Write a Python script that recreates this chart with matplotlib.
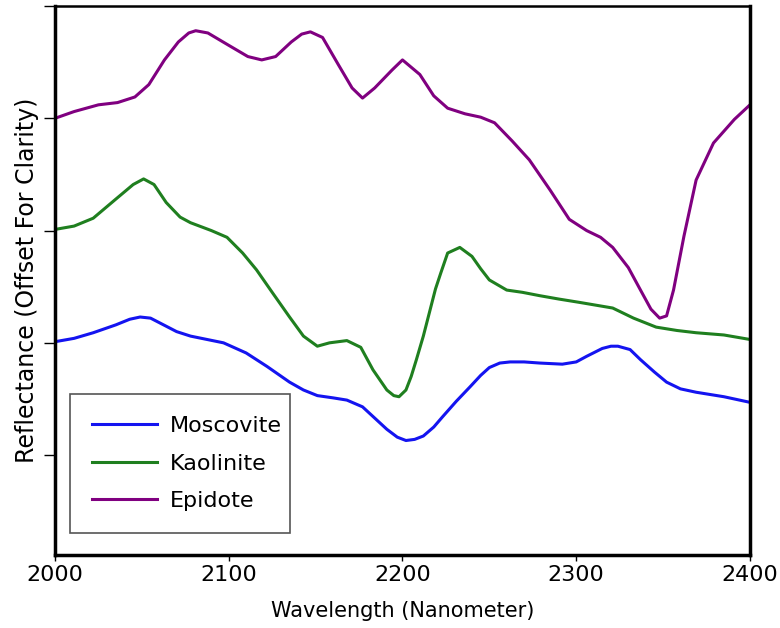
import matplotlib
matplotlib.use('Agg')
import matplotlib.pyplot as plt

# wavelength (nm) / reflectance (offset units)
moscovite_x = [2000, 2011, 2022, 2035, 2043, 2049, 2055, 2060, 2070, 2078, 2097, 2110, 2122, 2135,
               2143, 2151, 2160, 2168, 2177, 2184, 2191, 2197, 2202, 2207, 2212, 2218, 2223,
               2231, 2239, 2245, 2250, 2256, 2262, 2270, 2279, 2292, 2300, 2306, 2315, 2320,
               2324, 2331, 2337, 2345, 2352, 2360, 2369, 2385, 2400]
moscovite_y = [2.01, 2.04, 2.09, 2.16, 2.21, 2.23, 2.22, 2.18, 2.10, 2.06, 2.00, 1.91, 1.79, 1.65,
               1.58, 1.53, 1.51, 1.49, 1.43, 1.33, 1.23, 1.16, 1.13, 1.14, 1.17, 1.25, 1.34,
               1.48, 1.61, 1.71, 1.78, 1.82, 1.83, 1.83, 1.82, 1.81, 1.83, 1.88, 1.95, 1.97,
               1.97, 1.94, 1.85, 1.74, 1.65, 1.59, 1.56, 1.52, 1.47]

kaolinite_x = [2000, 2011, 2022, 2035, 2045, 2051, 2057, 2064, 2072, 2078, 2090, 2099, 2108, 2116,
               2125, 2135, 2143, 2151, 2158, 2168, 2176, 2183, 2191, 2195, 2198, 2202, 2205, 2208,
               2212, 2216, 2219, 2222, 2226, 2233, 2240, 2245, 2250, 2260, 2269, 2279, 2290,
               2302, 2321, 2333, 2346, 2358, 2369, 2385, 2400]
kaolinite_y = [3.01, 3.04, 3.11, 3.28, 3.41, 3.46, 3.41, 3.25, 3.12, 3.07, 3.00, 2.94, 2.80, 2.65,
               2.45, 2.23, 2.06, 1.97, 2.00, 2.02, 1.96, 1.76, 1.58, 1.53, 1.52, 1.58, 1.70, 1.85,
               2.06, 2.30, 2.48, 2.62, 2.80, 2.85, 2.77, 2.66, 2.56, 2.47, 2.45, 2.42, 2.39,
               2.36, 2.31, 2.22, 2.14, 2.11, 2.09, 2.07, 2.03]

epidote_x = [2000, 2011, 2025, 2036, 2046, 2054, 2063, 2071, 2077, 2081, 2088, 2100, 2111, 2119,
             2127, 2136, 2142, 2147, 2154, 2163, 2171, 2177, 2184, 2194, 2200, 2210, 2218, 2226,
             2236, 2245, 2253, 2263, 2273, 2285, 2296, 2306, 2314, 2321, 2330, 2337, 2343, 2348,
             2352, 2356, 2362, 2369, 2379, 2391, 2400]
epidote_y = [4.00, 4.06, 4.12, 4.14, 4.19, 4.30, 4.52, 4.68, 4.76, 4.78, 4.76, 4.65, 4.55, 4.52,
             4.55, 4.68, 4.75, 4.77, 4.72, 4.48, 4.27, 4.18, 4.27, 4.43, 4.52, 4.39, 4.20, 4.09,
             4.04, 4.01, 3.96, 3.80, 3.63, 3.36, 3.10, 3.00, 2.94, 2.85, 2.67, 2.47, 2.30, 2.22,
             2.24, 2.47, 2.95, 3.45, 3.78, 3.99, 4.12]

fig = plt.figure(figsize=(7.8, 6.28), dpi=100)
ax = fig.add_axes([0.0705, 0.1162, 0.891, 0.8742])

ax.plot(moscovite_x, moscovite_y, color='#1414f0', lw=2.2, label='Moscovite')
ax.plot(kaolinite_x, kaolinite_y, color='#1f7f1f', lw=2.2, label='Kaolinite')
ax.plot(epidote_x, epidote_y, color='#800080', lw=2.2, label='Epidote')

ax.set_xlim(2000, 2400)
ax.set_ylim(0.11, 5.0)
ax.set_xticks([2000, 2100, 2200, 2300, 2400])
ax.set_yticks([1, 2, 3, 4, 5])
ax.set_yticklabels([])
ax.tick_params(axis='x', labelsize=16, length=4, width=1)
ax.tick_params(axis='y', length=8, width=1)

for s in ['left', 'bottom', 'right']:
    ax.spines[s].set_linewidth(2.5)
ax.spines['top'].set_linewidth(1.8)

ax.set_xlabel('Wavelength (Nanometer)', fontsize=15, labelpad=11)
ax.set_ylabel('Reflectance (Offset For Clarity)', fontsize=17, labelpad=0)

leg = ax.legend(loc='lower left', bbox_to_anchor=(0.0216, 0.040, 0.3166, 0.25), mode='expand',
                fontsize=16, fancybox=False, edgecolor='#555555', framealpha=1,
                handlelength=2.9, handletextpad=0.6, borderpad=1.0, labelspacing=0.78,
                borderaxespad=0)
leg.get_frame().set_linewidth(1.2)

fig.savefig('out.png', dpi=100)
